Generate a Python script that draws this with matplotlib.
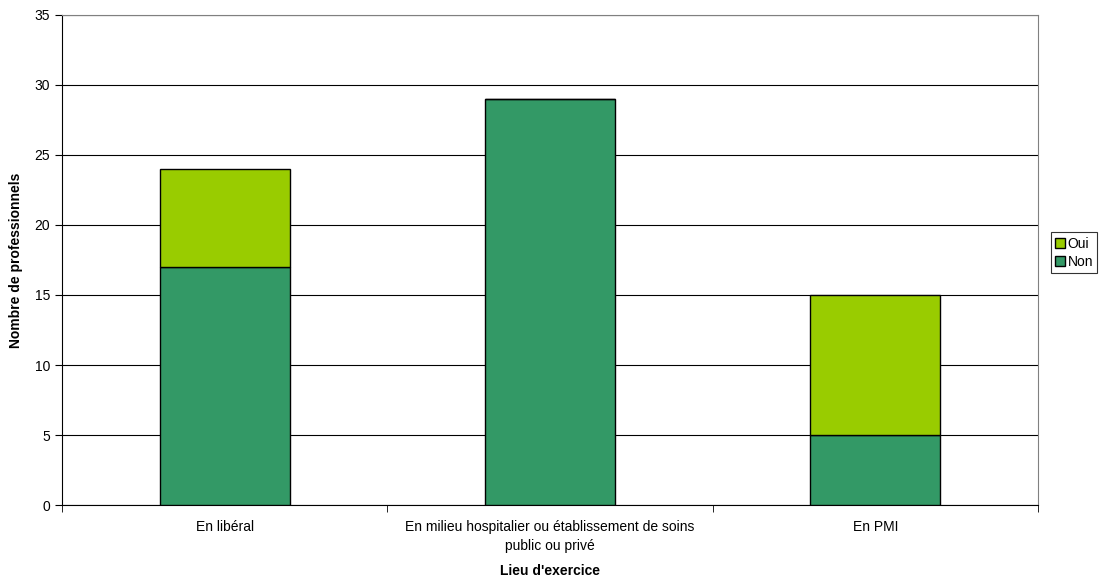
import matplotlib
matplotlib.use('agg')
import matplotlib.pyplot as plt
import numpy as np

plt.rcParams['font.family'] = ['Liberation Sans', 'DejaVu Sans']

categories = ['En libéral', 'En milieu hospitalier ou établissement de soins\npublic ou privé', 'En PMI']
non_vals = [17, 29, 5]
oui_vals = [7, 0, 10]

fig = plt.figure(figsize=(11.09, 5.81), dpi=100)
ax = fig.add_axes([0.0559, 0.1308, 0.8801, 0.8434])

x = np.arange(len(categories))
ax.bar(x, non_vals, width=0.4, color='#339966', edgecolor='black', linewidth=1, label='Non', zorder=3)
ax.bar(x, oui_vals, width=0.4, bottom=non_vals, color='#99CC00', edgecolor='black', linewidth=1,
       label='Oui', zorder=3)

ax.set_xlim(-0.5, 2.5)
ax.set_ylim(0, 35)
ax.set_yticks(range(0, 36, 5))
ax.yaxis.grid(True, color='black', linewidth=0.8, zorder=0)
ax.set_axisbelow(True)

# category labels centred, tick marks at category boundaries
ax.set_xticks(x)
ax.set_xticklabels(categories, fontsize=10, linespacing=1.4)
ax.tick_params(axis='x', which='major', length=0, pad=11)
ax.set_xticks([-0.5, 0.5, 1.5, 2.5], minor=True)
ax.tick_params(axis='x', which='minor', length=5, direction='out')
ax.tick_params(axis='y', length=5, direction='out', labelsize=10)

ax.spines['top'].set_color('#808080')
ax.spines['right'].set_color('#808080')

ax.set_xlabel("Lieu d'exercice", fontsize=10, fontweight='bold', labelpad=8)
ax.set_ylabel('Nombre de professionnels', fontsize=10, fontweight='bold', labelpad=8)

handles, labels = ax.get_legend_handles_labels()
leg = ax.legend(handles[::-1], labels[::-1], loc='center left', bbox_to_anchor=(1.013, 0.515),
                fontsize=10, frameon=True, fancybox=False, edgecolor='black',
                handlelength=0.7, handleheight=0.7, handletextpad=0.2, borderpad=0.3,
                labelspacing=0.3, borderaxespad=0)
leg.get_frame().set_linewidth(0.8)

fig.savefig('out.png', dpi=100)
